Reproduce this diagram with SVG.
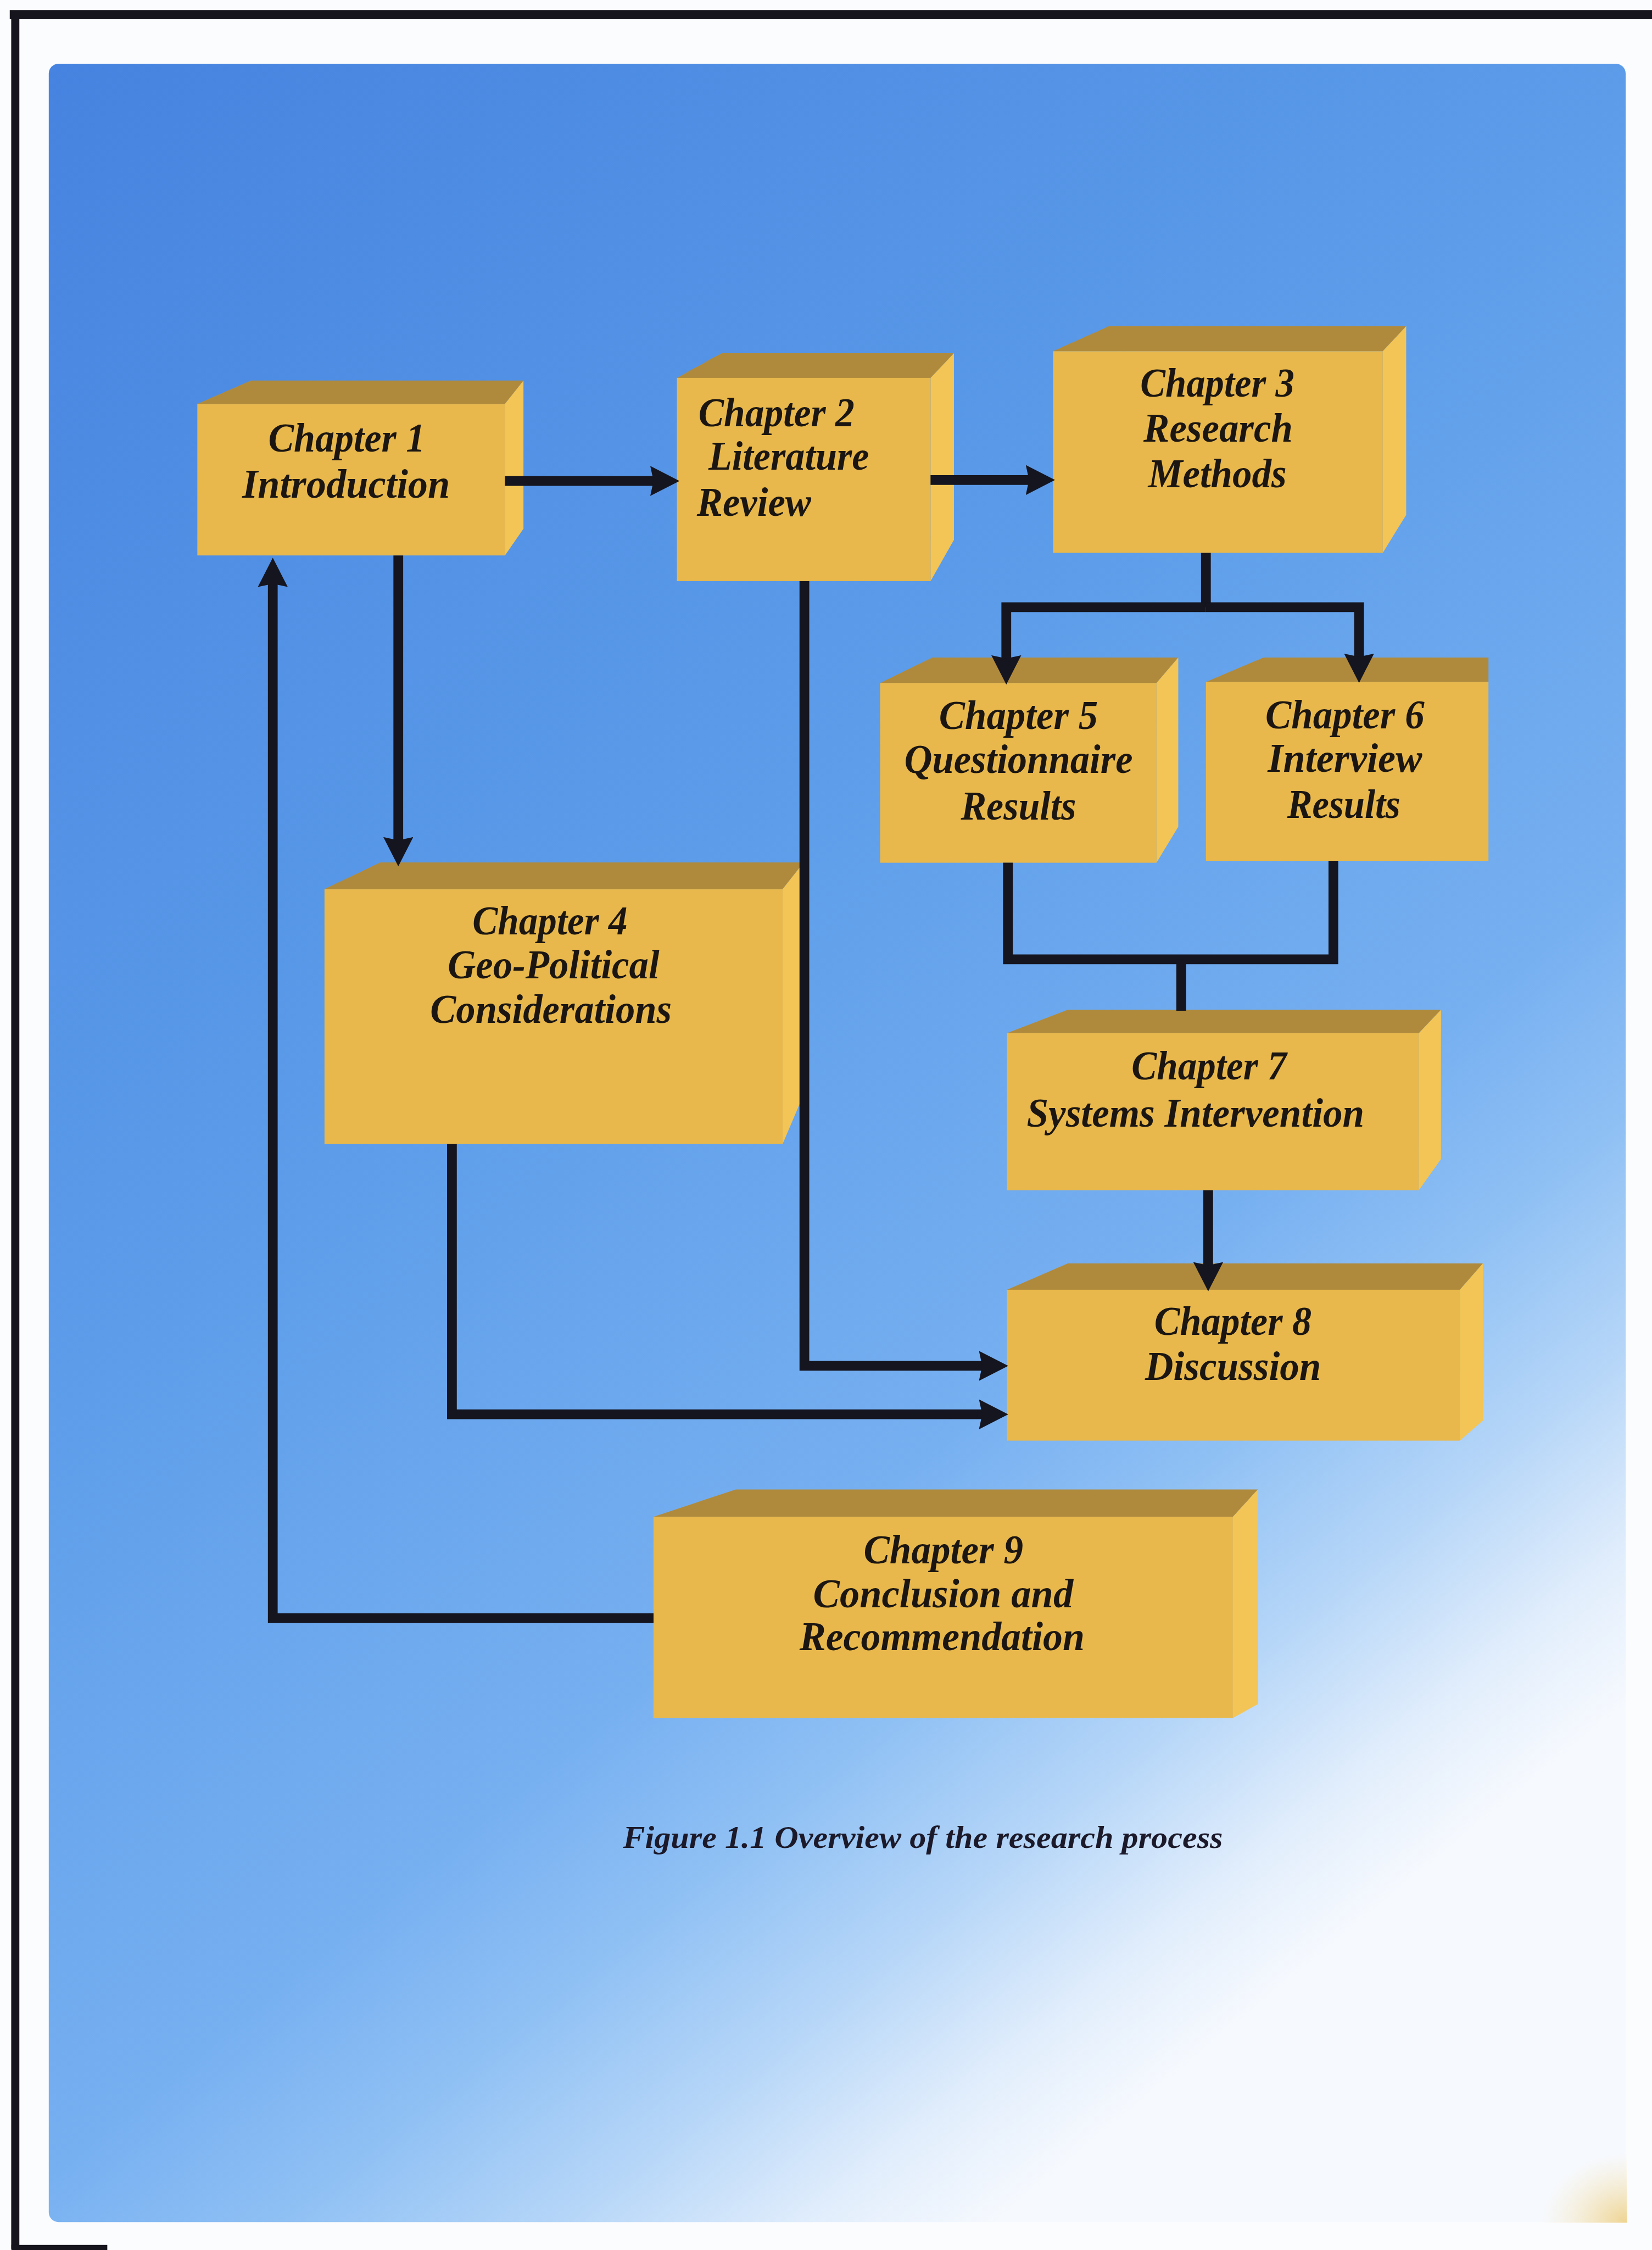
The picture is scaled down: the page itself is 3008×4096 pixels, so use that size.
<svg xmlns="http://www.w3.org/2000/svg" width="3008" height="4096" viewBox="0 0 3008 4096">
<style>
.front{fill:#e8b84c}
.top{fill:#b08a3c}
.side{fill:#f2c556}
.lbl{font-family:"Liberation Serif","Times New Roman",serif;font-weight:bold;font-style:italic;font-size:126px;fill:#1b1612}
.cap{font-family:"Liberation Serif","Times New Roman",serif;font-weight:bold;font-style:italic;font-size:96px;fill:#1c1a2a}
.conn{fill:none;stroke:#15151f;stroke-width:30;stroke-linejoin:miter}
.arr{marker-end:url(#ah)}
.border{stroke:#16141c;fill:none}
</style>
<defs>
<linearGradient id="bg" x1="0" y1="0" x2="0.6" y2="1">
<stop offset="0" stop-color="#4683e0"/>
<stop offset="0.45" stop-color="#5c9ce9"/>
<stop offset="0.72" stop-color="#77b0f1"/>
<stop offset="0.8" stop-color="#8fc0f4"/>
<stop offset="0.88" stop-color="#b6d6f8"/>
<stop offset="0.95" stop-color="#e2eefc"/>
<stop offset="1" stop-color="#f6f9fe"/>
</linearGradient>
<radialGradient id="smudge" cx="1" cy="1" r="1">
<stop offset="0" stop-color="#eed18a" stop-opacity="0.95"/>
<stop offset="1" stop-color="#f6e7bd" stop-opacity="0"/>
</radialGradient>
<marker id="ah" markerUnits="userSpaceOnUse" viewBox="0 0 90 92" refX="30" refY="46" markerWidth="90" markerHeight="92" orient="auto">
<path d="M0,0 L90,46 L0,92 L10,46 Z" fill="#15151f"/>
</marker>
</defs>
<g transform="scale(0.59201)">
<rect x="0" y="0" width="5081" height="6919" fill="#fbfcfe"/>
<rect x="150" y="196" width="4850" height="6637" rx="30" fill="url(#bg)"/>
<rect x="4740" y="6620" width="264" height="215" fill="url(#smudge)"/>
<line class="border" x1="30" y1="45" x2="5081" y2="45" stroke-width="28"/>
<line class="border" x1="47" y1="40" x2="47" y2="6915" stroke-width="25"/>
<line class="border" x1="35" y1="6912" x2="330" y2="6912" stroke-width="18"/>

<g id="ch1">
<polygon class="top" points="607,1242 772,1170 1610,1170 1553,1242"/>
<polygon class="side" points="1553,1242 1610,1170 1610,1626 1553,1708"/>
<rect class="front" x="607" y="1242" width="946" height="466"/>
<text class="lbl" x="825" y="1389" textLength="483" lengthAdjust="spacingAndGlyphs">Chapter 1</text>
<text class="lbl" x="745" y="1530" textLength="639" lengthAdjust="spacingAndGlyphs">Introduction</text>
</g>
<g id="ch2">
<polygon class="top" points="2082,1162 2219,1086 2934,1086 2862,1162"/>
<polygon class="side" points="2862,1162 2934,1086 2934,1660 2862,1787"/>
<rect class="front" x="2082" y="1162" width="780" height="625"/>
<text class="lbl" x="2148" y="1310" textLength="480" lengthAdjust="spacingAndGlyphs">Chapter 2</text>
<text class="lbl" x="2179" y="1445" textLength="494" lengthAdjust="spacingAndGlyphs">Literature</text>
<text class="lbl" x="2143" y="1586" textLength="352" lengthAdjust="spacingAndGlyphs">Review</text>
</g>
<g id="ch3">
<polygon class="top" points="3239,1080 3411,1003 4325,1003 4253,1080"/>
<polygon class="side" points="4253,1080 4325,1003 4325,1583 4253,1700"/>
<rect class="front" x="3239" y="1080" width="1014" height="620"/>
<text class="lbl" x="3507" y="1220" textLength="474" lengthAdjust="spacingAndGlyphs">Chapter 3</text>
<text class="lbl" x="3517" y="1358" textLength="459" lengthAdjust="spacingAndGlyphs">Research</text>
<text class="lbl" x="3531" y="1498" textLength="426" lengthAdjust="spacingAndGlyphs">Methods</text>
</g>
<g id="ch4">
<polygon class="top" points="998,2734 1170,2652 2472,2652 2407,2734"/>
<polygon class="side" points="2407,2734 2472,2652 2472,3365 2407,3518"/>
<rect class="front" x="998" y="2734" width="1409" height="784"/>
<text class="lbl" x="1453" y="2874" textLength="477" lengthAdjust="spacingAndGlyphs">Chapter 4</text>
<text class="lbl" x="1377" y="3008" textLength="651" lengthAdjust="spacingAndGlyphs">Geo-Political</text>
<text class="lbl" x="1323" y="3145" textLength="743" lengthAdjust="spacingAndGlyphs">Considerations</text>
</g>
<g id="ch5">
<polygon class="top" points="2707,2100 2868,2022 3624,2022 3557,2100"/>
<polygon class="side" points="3557,2100 3624,2022 3624,2542 3557,2653"/>
<rect class="front" x="2707" y="2100" width="850" height="553"/>
<text class="lbl" x="2888" y="2242" textLength="489" lengthAdjust="spacingAndGlyphs">Chapter 5</text>
<text class="lbl" x="2781" y="2376" textLength="703" lengthAdjust="spacingAndGlyphs">Questionnaire</text>
<text class="lbl" x="2955" y="2520" textLength="355" lengthAdjust="spacingAndGlyphs">Results</text>
</g>
<g id="ch6">
<polygon class="top" points="3709,2097 3886,2022 4578,2022 4578,2097"/>
<rect class="front" x="3709" y="2097" width="869" height="550"/>
<text class="lbl" x="3892" y="2239" textLength="489" lengthAdjust="spacingAndGlyphs">Chapter 6</text>
<text class="lbl" x="3899" y="2373" textLength="475" lengthAdjust="spacingAndGlyphs">Interview</text>
<text class="lbl" x="3959" y="2516" textLength="348" lengthAdjust="spacingAndGlyphs">Results</text>
</g>
<g id="ch7">
<polygon class="top" points="3097,3177 3284,3105 4432,3105 4364,3177"/>
<polygon class="side" points="4364,3177 4432,3105 4432,3564 4364,3660"/>
<rect class="front" x="3097" y="3177" width="1267" height="483"/>
<text class="lbl" x="3480" y="3320" textLength="477" lengthAdjust="spacingAndGlyphs">Chapter 7</text>
<text class="lbl" x="3158" y="3464" textLength="1038" lengthAdjust="spacingAndGlyphs">Systems Intervention</text>
</g>
<g id="ch8">
<polygon class="top" points="3097,3966 3284,3885 4561,3885 4490,3966"/>
<polygon class="side" points="4490,3966 4561,3885 4561,4368 4490,4430"/>
<rect class="front" x="3097" y="3966" width="1393" height="464"/>
<text class="lbl" x="3550" y="4105" textLength="484" lengthAdjust="spacingAndGlyphs">Chapter 8</text>
<text class="lbl" x="3522" y="4244" textLength="541" lengthAdjust="spacingAndGlyphs">Discussion</text>
</g>
<g id="ch9">
<polygon class="top" points="2010,4664 2263,4580 3869,4580 3792,4664"/>
<polygon class="side" points="3792,4664 3869,4580 3869,5240 3792,5283"/>
<rect class="front" x="2010" y="4664" width="1782" height="619"/>
<text class="lbl" x="2656" y="4807" textLength="491" lengthAdjust="spacingAndGlyphs">Chapter 9</text>
<text class="lbl" x="2501" y="4942" textLength="800" lengthAdjust="spacingAndGlyphs">Conclusion and</text>
<text class="lbl" x="2459" y="5074" textLength="877" lengthAdjust="spacingAndGlyphs">Recommendation</text>
</g>

<g id="connectors">
<path class="conn arr" d="M1553,1479 H2030"/>
<path class="conn arr" d="M2862,1476 H3185"/>
<path class="conn" d="M3709,1700 V1867"/>
<path class="conn arr" d="M3709,1867 H3095 V2045"/>
<path class="conn arr" d="M3709,1867 H4180 V2040"/>
<path class="conn" d="M3100,2653 V2950 H4101 V2647"/>
<path class="conn" d="M3633,2950 V3108"/>
<path class="conn arr" d="M3716,3660 V3911"/>
<path class="conn arr" d="M2474,1787 V4200 H3041"/>
<path class="conn arr" d="M1390,3518 V4349 H3041"/>
<path class="conn arr" d="M1225,1708 V2604"/>
<path class="conn arr" d="M2010,4976 H839 V1775"/>
</g>

<text class="cap" x="1916" y="5683" textLength="1845" lengthAdjust="spacingAndGlyphs">Figure 1.1 Overview of the research process</text>
</g>
</svg>
